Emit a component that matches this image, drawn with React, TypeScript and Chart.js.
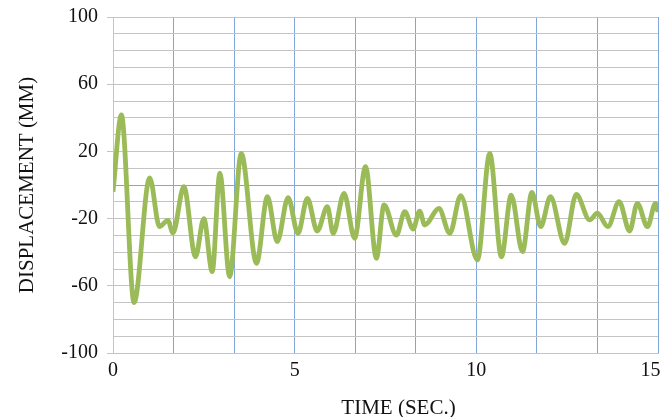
import React, { useEffect, useRef } from "react";
import { Chart, registerables } from "chart.js";

Chart.register(...registerables);

const timeSec = [
  0, 0.23, 0.58, 1.01, 1.28, 1.51, 1.65, 1.95, 2.27, 2.5, 2.73, 2.94, 3.21, 3.53,
  3.95, 4.25, 4.52, 4.82, 5.09, 5.35, 5.62, 5.9, 6.06, 6.36, 6.65, 6.95, 7.25,
  7.46, 7.8, 8.03, 8.26, 8.44, 8.58, 8.97, 9.27, 9.57, 10.03, 10.37, 10.69,
  10.96, 11.27, 11.53, 11.77, 12.04, 12.43, 12.75, 13.12, 13.33, 13.62, 13.93,
  14.22, 14.43, 14.71, 14.93, 15.0,
];
const displacementMm = [
  -4, 41.7, -70, 4.3, -24.8, -21, -28.6, -1, -42.7, -20, -51.6, 7, -54.6, 18.8,
  -46.6, -7, -33.7, -7.5, -28.8, -8, -27.4, -12.9, -28.8, -5, -31.7, 10.9, -43.6,
  -11.9, -29.8, -15.9, -26.2, -15.5, -23.8, -14, -28.8, -6.3, -44.6, 18.8, -42.7,
  -6, -39.7, -4.4, -24.8, -7, -34.7, -5.6, -20.8, -16.8, -24.8, -9.9, -27.4,
  -10.9, -24.8, -10.9, -16,
];
const yTickLabels = [100, 60, 20, -20, -60, -100];
const xTickLabels = [0, 5, 10, 15];
const xGridCount = 9;
const xTitle = "TIME (SEC.)";
const yTitle = "DISPLACEMENT (MM)";

export default function App() {
  const ref = useRef<HTMLCanvasElement>(null);

  useEffect(() => {
    document.body.style.margin = "0";
    const GRAY = "#c4c4c4";
    const BLUE = "#7fa5da";
    const TEXT = "#111111";
    const FONT = "'Liberation Serif', 'Times New Roman', serif";
    const canvas = ref.current;
    if (!canvas) return;

    const xTitlePlugin = {
      id: "xTitlePlugin",
      afterDraw(chart: any) {
        const { ctx, chartArea } = chart;
        ctx.save();
        ctx.font = `21px ${FONT}`;
        ctx.fillStyle = TEXT;
        ctx.textAlign = "center";
        ctx.textBaseline = "alphabetic";
        ctx.fillText(xTitle, (chartArea.left + chartArea.right) / 2 + 13, chart.height - 3);
        ctx.restore();
      },
    };

    const chart = new Chart(canvas, {
      type: "line",
      data: {
        datasets: [
          {
            data: timeSec.map((t, i) => ({ x: t, y: displacementMm[i] })),
            borderColor: "#9bbb59",
            borderWidth: 4.8,
            pointRadius: 0,
            cubicInterpolationMode: "monotone",
            fill: false,
          },
        ],
      },
      plugins: [xTitlePlugin],
      options: {
        animation: false,
        responsive: false,
        devicePixelRatio: 1,
        layout: { padding: { left: 0, top: 17, right: 4, bottom: 0 } },
        plugins: { legend: { display: false }, tooltip: { enabled: false } },
        scales: {
          x: {
            type: "linear",
            min: 0,
            max: 15,
            afterBuildTicks: (s: any) => {
              s.ticks = Array.from({ length: xGridCount + 1 }, (_, i) => ({
                value: (i * 15) / xGridCount,
              }));
            },
            afterFit: (s: any) => {
              s.height = 64;
              s.paddingLeft = 0;
              s.paddingRight = 0;
            },
            grid: { color: BLUE, lineWidth: 1, drawTicks: false },
            border: { color: GRAY, width: 1 },
            ticks: {
              padding: 6,
              autoSkip: false,
              maxRotation: 0,
              color: TEXT,
              font: { family: FONT, size: 20 },
              callback: (v: any) => {
                const n = Number(v);
                if (!xTickLabels.some((l) => Math.abs(l - n) < 1e-6)) return "";
                const label = String(Math.round(n));
                return Math.abs(n - 15) < 1e-6 ? label + "   " : label;
              },
            },
            title: { display: false },
          },
          y: {
            min: -100,
            max: 100,
            afterFit: (s: any) => {
              s.width = 113;
              s.paddingTop = 0;
              s.paddingBottom = 0;
            },
            grid: {
              color: (ctx: any) =>
                ctx.tick && ctx.tick.value === 0 ? BLUE : GRAY,
              tickColor: (ctx: any) =>
                ctx.tick && yTickLabels.includes(ctx.tick.value)
                  ? GRAY
                  : "rgba(0,0,0,0)",
              tickLength: 6,
              lineWidth: 1,
            },
            border: { color: GRAY, width: 1 },
            ticks: {
              stepSize: 10,
              autoSkip: false,
              padding: 9,
              color: TEXT,
              font: { family: FONT, size: 20 },
              callback: (v: any) =>
                yTickLabels.includes(Number(v)) ? String(v) : "",
            },
            title: {
              display: true,
              text: yTitle,
              color: TEXT,
              font: { family: FONT, size: 21, lineHeight: 1.2 },
              padding: { top: 15, bottom: 0 },
            },
          },
        },
      },
    });
    return () => chart.destroy();
  }, []);

  return (
    <div style={{ width: 662, height: 417 }}>
      <canvas ref={ref} width={662} height={417} style={{ display: "block" }} />
    </div>
  );
}
